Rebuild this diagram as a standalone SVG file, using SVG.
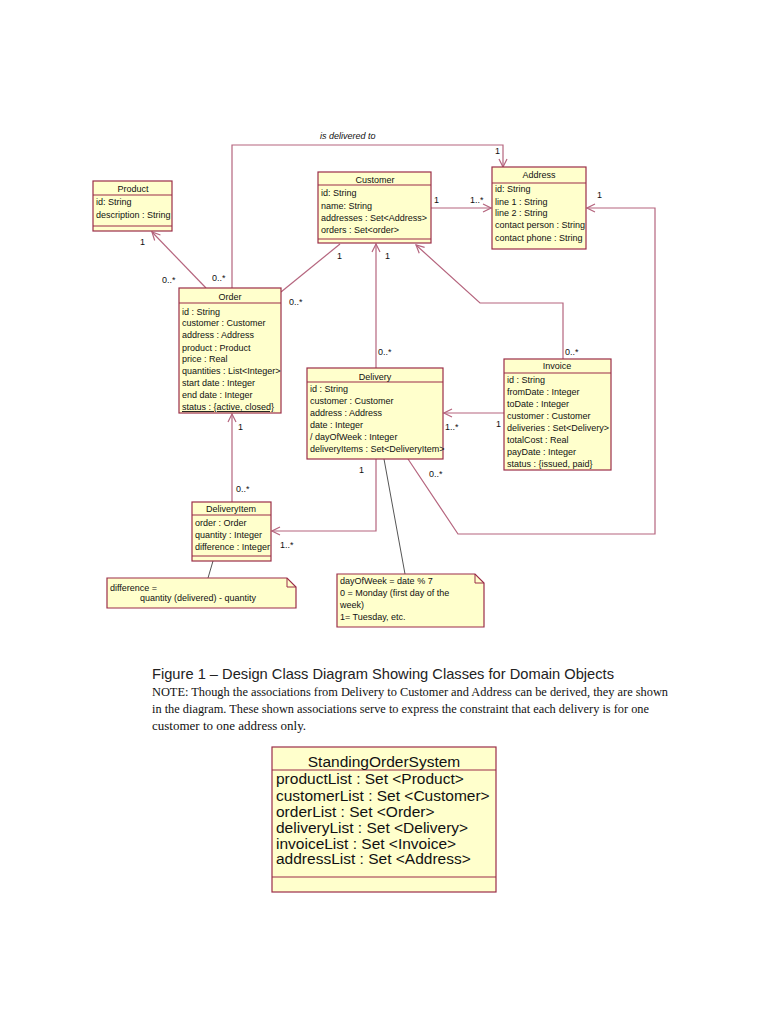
<svg xmlns="http://www.w3.org/2000/svg" width="768" height="1024" viewBox="0 0 768 1024">
<defs>
<style>
.box{fill:#ffffcc;stroke:#9b2d48;stroke-width:1.2}
.sep{stroke:#9b2d48;stroke-width:1.2}
.t{font-family:"Liberation Sans",Arial,sans-serif;font-size:9px;fill:#111}
.n{font-family:"Liberation Sans",Arial,sans-serif;font-size:9px;fill:#111;text-anchor:middle}
.c{fill:none;stroke:#b5657e;stroke-width:1.2}
.g{fill:none;stroke:#555;stroke-width:1}
.lbl{font-family:"Liberation Sans",Arial,sans-serif;font-size:9px;fill:#111}
.note{fill:#ffffcc;stroke:#9b2d48;stroke-width:1.2}
.cap{font-family:"Liberation Sans",Arial,sans-serif;font-size:15px;fill:#222}
.tm{font-family:"Liberation Serif","Times New Roman",serif;font-size:13px;fill:#111}
.big{font-family:"Liberation Sans",Arial,sans-serif;font-size:15.5px;fill:#111}
</style>
<marker id="arr" markerWidth="10" markerHeight="10" refX="9" refY="5" orient="auto" markerUnits="userSpaceOnUse">
<path d="M1,1 L9,5 L1,9" fill="none" stroke="#b5657e" stroke-width="1.2"/>
</marker>
</defs>

<g id="connectors">
<polyline class="c" points="206,288 152,232" marker-end="url(#arr)"/>
<polyline class="c" points="232,288 232,145 503,145 503,167" marker-end="url(#arr)"/>
<polyline class="c" points="281,292 340,244"/>
<polyline class="c" points="431,208 491,208" marker-end="url(#arr)"/>
<polyline class="c" points="376,368 376,244" marker-end="url(#arr)"/>
<polyline class="c" points="563,359 563,303 480,303 416,245" marker-end="url(#arr)"/>
<polyline class="c" points="504,413 444,413" marker-end="url(#arr)"/>
<polyline class="c" points="408,459 458,534 655,534 655,208 587,208" marker-end="url(#arr)"/>
<polyline class="c" points="376,459 376,531 272,531" marker-end="url(#arr)"/>
<polyline class="c" points="232,502 232,414" marker-end="url(#arr)"/>
<line class="g" x1="213" y1="561" x2="208" y2="578"/>
<line class="g" x1="384" y1="459" x2="405" y2="574"/>
<text class="lbl" x="320" y="139" font-style="italic">is delivered to</text>
<text class="lbl" x="495" y="154">1</text>
<text class="lbl" x="140" y="245">1</text>
<text class="lbl" x="162" y="283">0..*</text>
<text class="lbl" x="212" y="281">0..*</text>
<text class="lbl" x="289" y="305">0..*</text>
<text class="lbl" x="337" y="259">1</text>
<text class="lbl" x="434" y="203">1</text>
<text class="lbl" x="470" y="203">1..*</text>
<text class="lbl" x="385" y="259">1</text>
<text class="lbl" x="378" y="355">0..*</text>
<text class="lbl" x="424" y="241">1</text>
<text class="lbl" x="565" y="355">0..*</text>
<text class="lbl" x="496" y="427">1</text>
<text class="lbl" x="445" y="430">1..*</text>
<text class="lbl" x="597" y="198">1</text>
<text class="lbl" x="429" y="477">0..*</text>
<text class="lbl" x="359" y="473">1</text>
<text class="lbl" x="280" y="548">1..*</text>
<text class="lbl" x="238" y="430">1</text>
<text class="lbl" x="236" y="492">0..*</text>
</g>

<g id="Product">
<rect class="box" x="93" y="181" width="79" height="50"/>
<line class="sep" x1="93" y1="195" x2="172" y2="195"/>
<line class="sep" x1="93" y1="226" x2="172" y2="226"/>
<text class="n" x="133" y="192">Product</text>
<text class="t" x="96" y="205">id: String</text>
<text class="t" x="96" y="218">description : String</text>
</g>

<g id="Customer">
<rect class="box" x="318" y="172" width="113" height="71"/>
<line class="sep" x1="318" y1="185" x2="431" y2="185"/>
<line class="sep" x1="318" y1="239" x2="431" y2="239"/>
<text class="n" x="375" y="183">Customer</text>
<text class="t" x="321" y="196">id: String</text>
<text class="t" x="321" y="209">name: String</text>
<text class="t" x="321" y="221">addresses : Set&lt;Address&gt;</text>
<text class="t" x="321" y="233">orders : Set&lt;order&gt;</text>
</g>

<g id="Address">
<rect class="box" x="492" y="167" width="94" height="82"/>
<line class="sep" x1="492" y1="183" x2="586" y2="183"/>
<text class="n" x="539" y="178">Address</text>
<text class="t" x="495" y="192">id: String</text>
<text class="t" x="495" y="205">line 1 : String</text>
<text class="t" x="495" y="216">line 2 : String</text>
<text class="t" x="495" y="228">contact person : String</text>
<text class="t" x="495" y="241">contact phone : String</text>
</g>

<g id="Order">
<rect class="box" x="179" y="288" width="102" height="125"/>
<line class="sep" x1="179" y1="303" x2="281" y2="303"/>
<text class="n" x="230" y="300">Order</text>
<text class="t" x="182" y="315">id : String</text>
<text class="t" x="182" y="326">customer : Customer</text>
<text class="t" x="182" y="338">address : Address</text>
<text class="t" x="182" y="351">product : Product</text>
<text class="t" x="182" y="362">price : Real</text>
<text class="t" x="182" y="374">quantities : List&lt;Integer&gt;</text>
<text class="t" x="182" y="386">start date : Integer</text>
<text class="t" x="182" y="398">end date : Integer</text>
<text class="t" x="182" y="410" text-decoration="underline">status : {active, closed}</text>
</g>

<g id="Delivery">
<rect class="box" x="307" y="368" width="136" height="91"/>
<line class="sep" x1="307" y1="382" x2="443" y2="382"/>
<text class="n" x="375" y="380">Delivery</text>
<text class="t" x="310" y="392">id : String</text>
<text class="t" x="310" y="404">customer : Customer</text>
<text class="t" x="310" y="416">address : Address</text>
<text class="t" x="310" y="428">date : Integer</text>
<text class="t" x="310" y="440">/ dayOfWeek : Integer</text>
<text class="t" x="310" y="452" font-size="8">deliveryItems : Set&lt;DeliveryItem&gt;</text>
</g>

<g id="Invoice">
<rect class="box" x="504" y="359" width="107" height="111"/>
<line class="sep" x1="504" y1="373" x2="611" y2="373"/>
<text class="n" x="557" y="369">Invoice</text>
<text class="t" x="507" y="383">id : String</text>
<text class="t" x="507" y="395">fromDate : Integer</text>
<text class="t" x="507" y="407">toDate : Integer</text>
<text class="t" x="507" y="419">customer : Customer</text>
<text class="t" x="507" y="431" font-size="8.5">deliveries : Set&lt;Delivery&gt;</text>
<text class="t" x="507" y="443">totalCost : Real</text>
<text class="t" x="507" y="455">payDate : Integer</text>
<text class="t" x="507" y="467">status : {issued, paid}</text>
</g>

<g id="DeliveryItem">
<rect class="box" x="192" y="502" width="79" height="59"/>
<line class="sep" x1="192" y1="515" x2="271" y2="515"/>
<line class="sep" x1="192" y1="556" x2="271" y2="556"/>
<text class="n" x="231" y="512">DeliveryItem</text>
<text class="t" x="195" y="526">order : Order</text>
<text class="t" x="195" y="538">quantity : Integer</text>
<text class="t" x="195" y="550">difference : Integer</text>
</g>

<g id="Note1">
<path class="note" d="M107,578 L287,578 L296,587 L296,608 L107,608 Z"/>
<path d="M287,578 L287,587 L296,587" fill="none" stroke="#9b2d48" stroke-width="1"/>
<text class="t" x="110" y="591">difference =</text>
<text class="t" x="140" y="601">quantity (delivered) - quantity</text>
</g>

<g id="Note2">
<path class="note" d="M337,574 L475,574 L484,583 L484,627 L337,627 Z"/>
<path d="M475,574 L475,583 L484,583" fill="none" stroke="#9b2d48" stroke-width="1"/>
<text class="t" x="340" y="584">dayOfWeek = date % 7</text>
<text class="t" x="340" y="596">0 = Monday (first day of the</text>
<text class="t" x="340" y="608">week)</text>
<text class="t" x="340" y="620">1= Tuesday, etc.</text>
</g>

<g id="caption">
<text class="cap" x="152" y="679" textLength="462" lengthAdjust="spacingAndGlyphs">Figure 1  –  Design Class Diagram Showing Classes for Domain Objects</text>
<text class="tm" x="152" y="696" textLength="516" lengthAdjust="spacingAndGlyphs">NOTE: Though the associations from Delivery to Customer and Address can be derived, they are shown</text>
<text class="tm" x="152" y="713" textLength="497" lengthAdjust="spacingAndGlyphs">in the diagram. These shown associations serve to express the constraint that each delivery is for one</text>
<text class="tm" x="152" y="730">customer to one address only.</text>
</g>

<g id="StandingOrderSystem">
<rect class="box" x="272" y="747" width="224" height="145"/>
<line class="sep" x1="272" y1="770" x2="496" y2="770"/>
<line class="sep" x1="272" y1="877" x2="496" y2="877"/>
<text class="big" x="384" y="767" text-anchor="middle">StandingOrderSystem</text>
<text class="big" x="276" y="784">productList : Set &lt;Product&gt;</text>
<text class="big" x="276" y="801">customerList : Set &lt;Customer&gt;</text>
<text class="big" x="276" y="817">orderList : Set &lt;Order&gt;</text>
<text class="big" x="276" y="833">deliveryList : Set &lt;Delivery&gt;</text>
<text class="big" x="276" y="849">invoiceList : Set &lt;Invoice&gt;</text>
<text class="big" x="276" y="864">addressList : Set &lt;Address&gt;</text>
</g>
</svg>
